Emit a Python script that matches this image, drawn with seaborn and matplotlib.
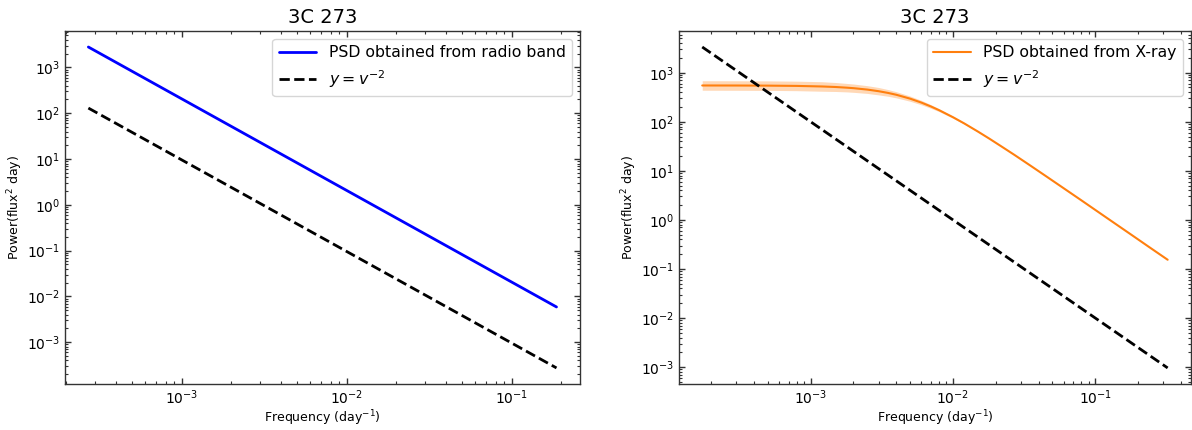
import numpy as np
import matplotlib
matplotlib.use("Agg")
import matplotlib.pyplot as plt
import seaborn as sns

# --- radio band panel ---
radio_freq = [2.72e-4, 0.187]
radio_psd = [2800, 5.9e-3]
radio_ref_freq = [2.72e-4, 0.187]
radio_ref_psd = [130, 2.75e-4]

# --- X-ray panel ---
xray_freq = [1.73e-4, 3e-4, 5e-4, 8e-4, 1.2e-3, 1.5e-3, 1.8e-3, 2e-3, 2.5e-3,
             3e-3, 3.5e-3, 4e-3, 5e-3, 6e-3, 7e-3, 8e-3, 1e-2, 1.2e-2, 1.5e-2,
             1.8e-2, 2.2e-2, 2.7e-2, 3.5e-2, 4.5e-2, 6e-2, 8e-2, 0.1, 0.13,
             0.18, 0.24, 0.323]
xray_psd = [549, 548, 545, 538, 524, 511, 495, 484, 453,
            420, 387, 355, 296, 246, 205, 172, 124, 92.6, 63,
            45.4, 31.2, 21.2, 12.8, 7.81, 4.42, 2.50, 1.60, 0.947,
            0.495, 0.278, 0.154]
band_freq = [1.73e-4, 3e-4, 5e-4, 8e-4, 1.2e-3, 1.5e-3, 1.8e-3, 2e-3, 2.5e-3,
             3e-3, 3.5e-3, 4e-3, 5e-3, 6e-3, 7e-3, 8e-3, 1e-2, 1.2e-2, 1.5e-2,
             1.8e-2, 2.2e-2]
band_hi = [686, 685, 681, 672, 655, 631, 604, 588, 544,
           500, 453, 410, 334, 273, 223, 184, 130, 95.8, 64.3,
           45.9, 31.2]
band_lo = [439, 438, 436, 430, 419, 414, 406, 398, 378,
           353, 331, 307, 262, 222, 188, 161, 118, 89.5, 61.8,
           45.0, 31.2]
xray_ref_freq = [1.73e-4, 0.323]
xray_ref_psd = [3340, 9.6e-4]

title = "3C 273"
ref_label = r"$y = v^{-2}$"

sns.set_style("white")
plt.rcParams["font.family"] = ["DejaVu Sans"]
plt.rcParams.update({"text.color": "black", "axes.labelcolor": "black",
                     "xtick.color": "black", "ytick.color": "black"})

fig = plt.figure(figsize=(11.92, 4.30), dpi=100)
ax1 = fig.add_axes([0.0545, 0.107, 0.432, 0.821])
ax2 = fig.add_axes([0.5696, 0.107, 0.4295, 0.821])

sns.lineplot(x=radio_freq, y=radio_psd, ax=ax1, color="blue", lw=2,
             label="PSD obtained from radio band")
sns.lineplot(x=radio_ref_freq, y=radio_ref_psd, ax=ax1, color="black", lw=2,
             linestyle="--", label=ref_label)

ax2.fill_between(band_freq, band_lo, band_hi, color="#ff7f0e", alpha=0.3, lw=0)
sns.lineplot(x=xray_freq, y=xray_psd, ax=ax2, color="#ff7f0e", lw=1.5,
             label="PSD obtained from X-ray")
sns.lineplot(x=xray_ref_freq, y=xray_ref_psd, ax=ax2, color="black", lw=2,
             linestyle="--", label=ref_label)

for ax in (ax1, ax2):
    ax.set_xscale("log")
    ax.set_yscale("log")
    ax.set_title(title, fontsize=14)
    ax.set_xlabel("Frequency (day$^{-1}$)", fontsize=9, labelpad=1)
    ax.set_ylabel("Power(flux$^2$ day)", fontsize=9, labelpad=1)
    ax.tick_params(which="both", direction="in", bottom=True, left=True,
                   top=True, right=True, labelsize=10, color="#333333")
    ax.tick_params(which="major", length=4, width=1)
    ax.tick_params(which="minor", length=2, width=0.8)
    for s in ax.spines.values():
        s.set_color("#333333")
        s.set_linewidth(1)
    ax.legend(loc="upper right", fontsize=11.3, handlelength=2.4)

fig.savefig("out.png", dpi=100)
